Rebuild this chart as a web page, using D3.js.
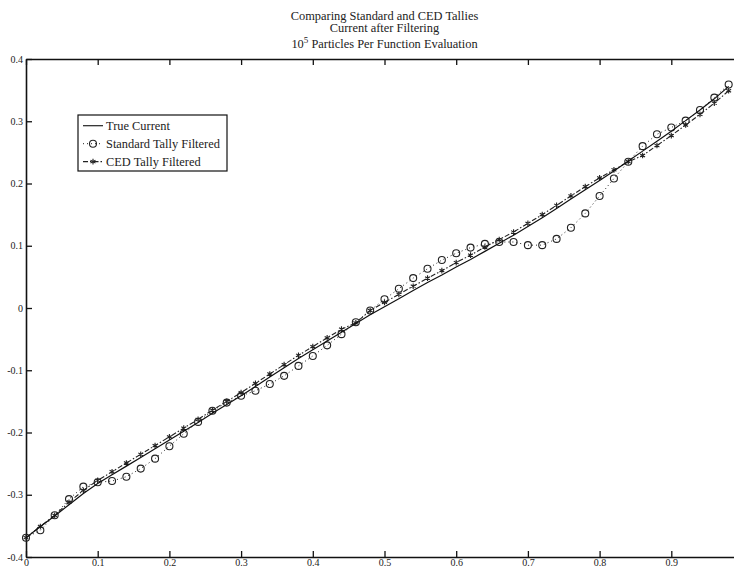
<!DOCTYPE html>
<html>
<head>
<meta charset="utf-8">
<script src="https://cdn.jsdelivr.net/npm/d3@7"></script>
<style>
  body { margin: 0; background: #fff; }
  text { font-family: "Liberation Serif", "Times New Roman", serif; fill: #222; }
  .axis path, .axis line { stroke: #111; }
  .axis path { stroke-width: 1.6; }
</style>
</head>
<body>
<script>
// x positions of the samples (every 0.02)
var xs = [0,0.02,0.04,0.06,0.08,0.10,0.12,0.14,0.16,0.18,
          0.20,0.22,0.24,0.26,0.28,0.30,0.32,0.34,0.36,0.38,
          0.40,0.42,0.44,0.46,0.48,0.50,0.52,0.54,0.56,0.58,
          0.60,0.62,0.64,0.66,0.68,0.70,0.72,0.74,0.76,0.78,
          0.80,0.82,0.84,0.86,0.88,0.90,0.92,0.94,0.96,0.98];

var trueCurrent = [-0.369,-0.351,-0.334,-0.316,-0.298,-0.282,-0.268,-0.254,-0.240,-0.226,
                   -0.212,-0.198,-0.184,-0.169,-0.155,-0.141,-0.126,-0.111,-0.096,-0.081,
                   -0.067,-0.053,-0.039,-0.025,-0.011,0.002,0.015,0.028,0.041,0.053,
                   0.066,0.078,0.091,0.104,0.117,0.131,0.145,0.160,0.175,0.190,
                   0.205,0.220,0.236,0.252,0.268,0.284,0.301,0.318,0.336,0.356];

var standardTally = [-0.369,-0.357,-0.333,-0.307,-0.287,-0.280,-0.278,-0.271,-0.258,-0.242,
                     -0.222,-0.202,-0.183,-0.165,-0.152,-0.141,-0.133,-0.122,-0.109,-0.093,
                     -0.077,-0.060,-0.042,-0.023,-0.004,0.014,0.031,0.048,0.063,0.077,
                     0.088,0.097,0.103,0.106,0.106,0.101,0.101,0.111,0.129,0.152,
                     0.180,0.208,0.235,0.260,0.279,0.290,0.301,0.318,0.338,0.359];

var cedTally = [-0.369,-0.351,-0.333,-0.312,-0.293,-0.277,-0.263,-0.249,-0.235,-0.221,
                -0.207,-0.193,-0.179,-0.164,-0.150,-0.136,-0.121,-0.106,-0.091,-0.076,
                -0.062,-0.048,-0.034,-0.024,-0.004,0.009,0.022,0.035,0.048,0.060,
                0.073,0.085,0.098,0.110,0.122,0.136,0.150,0.165,0.180,0.195,
                0.209,0.222,0.235,0.245,0.261,0.277,0.294,0.311,0.329,0.349];

var xTicks = [0,0.1,0.2,0.3,0.4,0.5,0.6,0.7,0.8,0.9];
var xTickLabels = ['0','0.1','0.2','0.3','0.4','0.5','0.6','0.7','0.8','0.9'];
var yTicks = [-0.4,-0.3,-0.2,-0.1,0,0.1,0.2,0.3,0.4];
var yTickLabels = ['-0.4','-0.3','-0.2','-0.1','0','0.1','0.2','0.3','0.4'];

var titleLines = ['Comparing Standard and CED Tallies', 'Current after Filtering'];
var legendLabels = ['True Current', 'Standard Tally Filtered', 'CED Tally Filtered'];

var width = 734, height = 569;

var x = d3.scaleLinear().domain([0, 1]).range([26, 743]);
var y = d3.scaleLinear().domain([-0.4, 0.4]).range([557, 59]);

var svg = d3.select("body").append("svg")
    .attr("width", width).attr("height", height);

// title
var title = svg.append("g").attr("text-anchor", "middle").style("font-size", "12.4px");
title.selectAll("text.t").data(titleLines).enter().append("text")
    .attr("class", "t")
    .attr("x", (x(0) + x(1)) / 2)
    .attr("y", function(d, i){ return 19.5 + i * 12.5; })
    .text(function(d){ return d; });
var t3 = title.append("text").attr("x", (x(0) + x(1)) / 2).attr("y", 47.5);
t3.append("tspan").text("10");
t3.append("tspan").attr("dy", -5).style("font-size", "9px").text("5");
t3.append("tspan").attr("dy", 5).text(" Particles Per Function Evaluation");

// axes
var xAxis = d3.axisBottom(x).tickValues(xTicks)
    .tickFormat(function(d, i){ return xTickLabels[i]; })
    .tickSizeInner(-6).tickSizeOuter(0).tickPadding(2);
var xTop = d3.axisTop(x).tickValues(xTicks).tickFormat("")
    .tickSizeInner(-6).tickSizeOuter(0);
var yAxis = d3.axisLeft(y).tickValues(yTicks)
    .tickFormat(function(d, i){ return yTickLabels[i]; })
    .tickSizeInner(-6).tickSizeOuter(0).tickPadding(3);

svg.append("g").attr("class", "axis").attr("transform", "translate(0," + y(-0.4) + ")")
    .call(xAxis);
svg.append("g").attr("class", "axis").attr("transform", "translate(0," + y(0.4) + ")")
    .call(xTop);
svg.append("g").attr("class", "axis").attr("transform", "translate(" + x(0) + ",0)")
    .call(yAxis);
svg.selectAll(".axis text").style("font-size", "10px").style("font-family", "Liberation Serif").attr("fill", "#333");
svg.selectAll(".axis .tick line").attr("stroke-width", 1.3);

var line = function(vals){
  return d3.line().x(function(d, i){ return x(xs[i]); }).y(function(d){ return y(d); })(vals);
};

// standard tally: dotted with circles
svg.append("path").attr("d", line(standardTally))
    .attr("fill", "none").attr("stroke", "#222").attr("stroke-width", 1)
    .attr("stroke-dasharray", "1,3");
svg.append("g").selectAll("circle").data(standardTally).enter().append("circle")
    .attr("cx", function(d, i){ return x(xs[i]); })
    .attr("cy", function(d){ return y(d); })
    .attr("r", 3.5).attr("fill", "none").attr("stroke", "#222").attr("stroke-width", 1.1);

// CED tally: dash-dot with asterisks
svg.append("path").attr("d", line(cedTally))
    .attr("fill", "none").attr("stroke", "#222").attr("stroke-width", 1.1)
    .attr("stroke-dasharray", "5,2,1.5,2");
var star = d3.symbol().type(d3.symbolAsterisk).size(22);
svg.append("g").selectAll("path").data(cedTally).enter().append("path")
    .attr("d", star)
    .attr("transform", function(d, i){ return "translate(" + x(xs[i]) + "," + y(d) + ")"; })
    .attr("fill", "none").attr("stroke", "#222").attr("stroke-width", 1.1);

// true current: solid
svg.append("path").attr("d", line(trueCurrent))
    .attr("fill", "none").attr("stroke", "#111").attr("stroke-width", 1.2);

// legend
var lg = svg.append("g").attr("transform", "translate(78,115)");
lg.append("rect").attr("x", 0).attr("y", 0).attr("width", 149).attr("height", 56)
    .attr("fill", "#fff").attr("stroke", "#111").attr("stroke-width", 1.2);
var rows = lg.selectAll("g.row").data(legendLabels).enter().append("g")
    .attr("class", "row")
    .attr("transform", function(d, i){ return "translate(0," + (10.7 + i * 18) + ")"; });
rows.append("text").attr("x", 28).attr("y", 4).style("font-size", "12.4px")
    .text(function(d){ return d; });
rows.append("line").attr("x1", 5).attr("x2", 25).attr("y1", 0).attr("y2", 0)
    .attr("stroke", "#222").attr("stroke-width", function(d, i){ return i === 1 ? 1 : 1.2; })
    .attr("stroke-dasharray", function(d, i){ return i === 0 ? null : (i === 1 ? "1,3" : "5,2,1.5,2"); });
rows.filter(function(d, i){ return i === 1; }).append("circle")
    .attr("cx", 15).attr("cy", 0).attr("r", 3.5)
    .attr("fill", "none").attr("stroke", "#222").attr("stroke-width", 1.1);
rows.filter(function(d, i){ return i === 2; }).append("path")
    .attr("d", star).attr("transform", "translate(15,0)")
    .attr("fill", "none").attr("stroke", "#222").attr("stroke-width", 1.1);
</script>
</body>
</html>
